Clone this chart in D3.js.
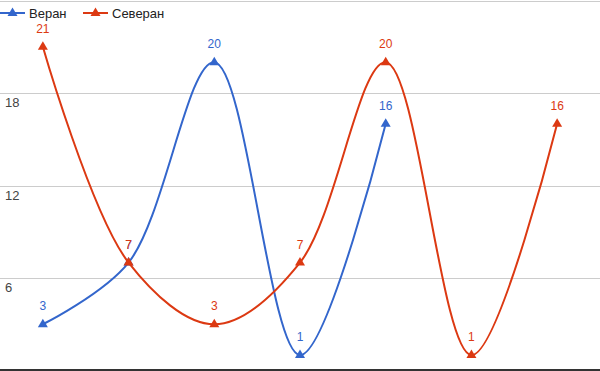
<!DOCTYPE html>
<html>
<head>
<meta charset="utf-8">
<script src="https://cdn.jsdelivr.net/npm/d3@7"></script>
<style>
  body { margin: 0; background: #fff; }
  text { font-family: Arial, "Liberation Sans", sans-serif; }
</style>
</head>
<body>
<div id="chart"></div>
<script>
// data
let categories = ["0", "1", "2", "3", "4", "5", "6"];
let veranValues = [3, 7, 20, 1, 16];
let severanValues = [21, 7, 3, 7, 20, 1, 16];
let yTicks = [6, 12, 18, 24];
let seriesNames = ["Веран", "Северан"];
let seriesColors = ["#3366cc", "#dc3912"];

let width = 600, height = 371;

let svg = d3.select("#chart")
    .append("svg")
    .attr("width", width)
    .attr("height", height);

let x = d3.scalePoint()
    .domain(categories)
    .range([0, width])
    .padding(0.5);

let y = d3.scaleLinear()
    .domain([0, 24])
    .range([370.5, 0.5]);

// gridlines
svg.append("g")
    .selectAll("line")
    .data(yTicks)
    .join("line")
    .attr("x1", 0)
    .attr("x2", width)
    .attr("y1", d => Math.round(y(d)) + 0.5)
    .attr("y2", d => Math.round(y(d)) + 0.5)
    .attr("stroke", "#cccccc")
    .attr("stroke-width", 1);

// tick labels, sitting just under each gridline
svg.append("g")
    .selectAll("text")
    .data(yTicks.filter(d => d < 24))
    .join("text")
    .attr("x", 5)
    .attr("y", d => y(d) + 14)
    .attr("font-size", 13)
    .attr("fill", "#444")
    .text(d => d);

// baseline
svg.append("line")
    .attr("x1", 0)
    .attr("x2", width)
    .attr("y1", 370)
    .attr("y2", 370)
    .attr("stroke", "#333")
    .attr("stroke-width", 2);

let line = d3.line()
    .x((d, i) => x(categories[i]))
    .y(d => y(d))
    .curve(d3.curveCatmullRom.alpha(0.5));

let triangle = "M0,-5.5L5,3L-5,3Z";

let allSeries = [veranValues, severanValues];

allSeries.forEach(function(values, s) {
    let g = svg.append("g");

    g.append("path")
        .datum(values)
        .attr("d", line)
        .attr("fill", "none")
        .attr("stroke", seriesColors[s])
        .attr("stroke-width", 2);

    g.selectAll(".marker")
        .data(values)
        .join("path")
        .attr("class", "marker")
        .attr("d", triangle)
        .attr("transform", (d, i) => "translate(" + x(categories[i]) + "," + y(d) + ")")
        .attr("fill", seriesColors[s]);

    g.selectAll(".label")
        .data(values)
        .join("text")
        .attr("class", "label")
        .attr("x", (d, i) => x(categories[i]))
        .attr("y", d => y(d) - 14)
        .attr("text-anchor", "middle")
        .attr("font-size", 12)
        .attr("fill", seriesColors[s])
        .text(d => d);
});

// legend
let legendX = [0, 83];
let legend = svg.append("g")
    .selectAll("g")
    .data(seriesNames)
    .join("g")
    .attr("transform", (d, i) => "translate(" + legendX[i] + ",13)");

legend.append("line")
    .attr("x1", 0)
    .attr("x2", 25)
    .attr("stroke", (d, i) => seriesColors[i])
    .attr("stroke-width", 2);

legend.append("path")
    .attr("d", triangle)
    .attr("transform", "translate(12.5,0)")
    .attr("fill", (d, i) => seriesColors[i]);

legend.append("text")
    .attr("x", 29)
    .attr("y", 5)
    .attr("font-size", 13)
    .attr("fill", "#222")
    .text(d => d);
</script>
</body>
</html>
